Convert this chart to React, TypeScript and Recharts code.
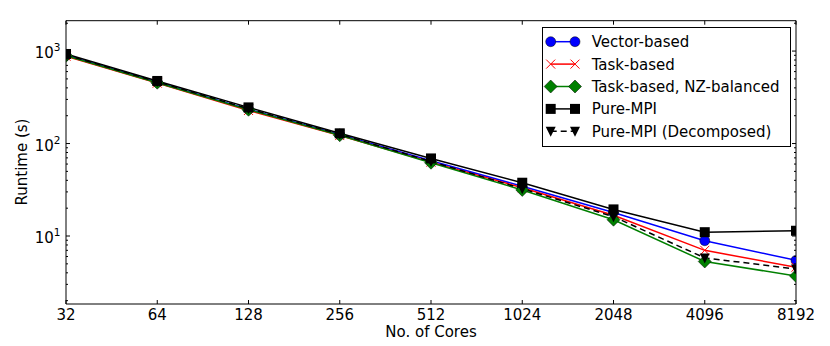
import React from "react";
import { LineChart, Line, XAxis, YAxis, Legend, ReferenceArea, Label } from "recharts";

// runtimes (s)
const cores = [32, 64, 128, 256, 512, 1024, 2048, 4096, 8192];
const vectorBased = [900, 460, 235, 125, 65, 34.5, 18.0, 8.9, 5.45];
const taskBased = [880, 450, 228, 122, 63, 33.3, 16.8, 7.0, 4.6];
const taskBalanced = [890, 455, 232, 123, 62, 31.5, 15.0, 5.3, 3.7];
const pureMpi = [930, 475, 246, 129, 69, 37.7, 19.4, 11.0, 11.4];
const pureMpiDecomposed = [910, 465, 238, 126, 64, 32.5, 16.2, 5.8, 4.4];

const yMajorTicks = [10, 100, 1000];
const yMinorTicks = [2, 3, 4, 5, 6, 7, 8, 9, 20, 30, 40, 50, 60, 70, 80, 90, 200, 300, 400, 500, 600, 700, 800, 900, 2000];
const Y_MIN = 1.84;
const Y_MAX = 2130;

const FONT = "DejaVu Sans";
const PLOT_W = 730;
const PLOT_H = 283.3;

type Kind = "circle" | "x" | "diamond" | "square" | "tri";

const series: { key: string; name: string; color: string; marker: Kind; dash?: string }[] = [
  { key: "vector", name: "Vector-based", color: "#0000ff", marker: "circle" },
  { key: "task", name: "Task-based", color: "#ff0000", marker: "x" },
  { key: "balanced", name: "Task-based, NZ-balanced", color: "#008000", marker: "diamond" },
  { key: "mpi", name: "Pure-MPI", color: "#000000", marker: "square" },
  { key: "mpiDec", name: "Pure-MPI (Decomposed)", color: "#000000", marker: "tri", dash: "6 4" },
];

const data = cores.map((c, i) => ({
  cores: c,
  vector: vectorBased[i],
  task: taskBased[i],
  balanced: taskBalanced[i],
  mpi: pureMpi[i],
  mpiDec: pureMpiDecomposed[i],
}));

const Marker = ({ kind, cx, cy, color }: { kind: Kind; cx: number; cy: number; color: string }) => {
  if (kind === "circle") return <circle cx={cx} cy={cy} r={5} fill={color} stroke="#000" strokeWidth={0.5} />;
  if (kind === "x")
    return (
      <g stroke={color} strokeWidth={1}>
        <line x1={cx - 4.5} y1={cy - 4.5} x2={cx + 4.5} y2={cy + 4.5} />
        <line x1={cx - 4.5} y1={cy + 4.5} x2={cx + 4.5} y2={cy - 4.5} />
      </g>
    );
  if (kind === "diamond")
    return (
      <polygon
        points={`${cx},${cy - 6.5} ${cx + 6.5},${cy} ${cx},${cy + 6.5} ${cx - 6.5},${cy}`}
        fill={color}
        stroke="#000"
        strokeWidth={0.5}
      />
    );
  if (kind === "square") return <rect x={cx - 5} y={cy - 5} width={10} height={10} fill={color} />;
  return <polygon points={`${cx - 5},${cy - 4.5} ${cx + 5},${cy - 4.5} ${cx},${cy + 5.5}`} fill={color} />;
};

const isMajor = (v: number) => {
  const e = Math.log10(v);
  return Math.abs(e - Math.round(e)) < 1e-9;
};

const YTick = (props: any) => {
  const { x, y, payload } = props;
  const major = isMajor(payload.value);
  const len = major ? 4 : 2;
  return (
    <g>
      <line x1={x} x2={x + len} y1={y} y2={y} stroke="#000" />
      <line x1={x + PLOT_W - len} x2={x + PLOT_W} y1={y} y2={y} stroke="#000" />
      {major && (
        <text x={x - 5.5} y={y + 7} textAnchor="end" fontSize={15} fontFamily={FONT} fill="#000">
          10
          <tspan dy={-7} fontSize={10.5}>
            {Math.round(Math.log10(payload.value))}
          </tspan>
        </text>
      )}
    </g>
  );
};

const XTick = (props: any) => {
  const { x, y, payload } = props;
  return (
    <g>
      <line x1={x} x2={x} y1={y} y2={y - 4} stroke="#000" />
      <line x1={x} x2={x} y1={y - PLOT_H} y2={y - PLOT_H + 4} stroke="#000" />
      <text x={x} y={y + 15.5} textAnchor="middle" fontSize={15} fontFamily={FONT} fill="#000">
        {payload.value}
      </text>
    </g>
  );
};

const LegendBox = () => (
  <svg width={249} height={120} style={{ display: "block" }}>
    <rect x={0.5} y={0.5} width={248} height={119} fill="#fff" stroke="#000" />
    {series.map((s, i) => {
      const cy = 14.7 + i * 22.4;
      return (
        <g key={s.key}>
          <line x1={8.7} x2={33} y1={cy} y2={cy} stroke={s.color} strokeWidth={1.5} strokeDasharray={s.dash} />
          <Marker kind={s.marker} cx={8.7} cy={cy} color={s.color} />
          <Marker kind={s.marker} cx={33} cy={cy} color={s.color} />
          <text x={49.7} y={cy + 5.5} fontSize={15} fontFamily={FONT} fill="#000">
            {s.name}
          </text>
        </g>
      );
    })}
  </svg>
);

export default function App() {
  return (
    <div style={{ width: 814, height: 338, marginBottom: -8 }}>
      <LineChart width={814} height={338} data={data} margin={{ top: 12.7, right: 26, bottom: 8, left: 0 }}>
        <XAxis
          dataKey="cores"
          type="number"
          scale="log"
          domain={[32, 8192]}
          ticks={cores}
          interval={0}
          allowDataOverflow
          axisLine={false}
          tickLine={false}
          tickSize={0}
          tickMargin={0}
          height={34}
          tick={<XTick />}
        >
          <Label
            content={() => (
              <text x={423} y={328.7} textAnchor="middle" fontSize={15} fontFamily={FONT} fill="#000">
                No. of Cores
              </text>
            )}
          />
        </XAxis>
        <YAxis
          type="number"
          scale="log"
          domain={[Y_MIN, Y_MAX]}
          ticks={[...yMinorTicks, ...yMajorTicks].sort((a, b) => a - b)}
          interval={0}
          allowDataOverflow
          axisLine={false}
          tickLine={false}
          tickSize={0}
          tickMargin={0}
          width={58}
          tick={<YTick />}
        >
          <Label
            content={() => (
              <text
                x={18.5}
                y={154}
                transform="rotate(-90, 18.5, 154)"
                textAnchor="middle"
                fontSize={15}
                fontFamily={FONT}
                fill="#000"
              >
                Runtime (s)
              </text>
            )}
          />
        </YAxis>
        <ReferenceArea x1={32} x2={8192} y1={Y_MIN} y2={Y_MAX} fill="none" stroke="#000" strokeWidth={1} ifOverflow="visible" />
        {series.map((s) => (
          <Line
            key={s.key}
            dataKey={s.key}
            name={s.name}
            type="linear"
            stroke={s.color}
            strokeWidth={1.5}
            strokeDasharray={s.dash}
            isAnimationActive={false}
            dot={(p: any) => <Marker key={`${s.key}-${p.index}`} kind={s.marker} cx={p.cx} cy={p.cy} color={s.color} />}
            activeDot={false}
          />
        ))}
        <Legend
          layout="vertical"
          align="center"
          verticalAlign="middle"
          content={() => <LegendBox />}
          wrapperStyle={{ left: 534, top: 19, width: 249, height: 120 }}
        />
      </LineChart>
    </div>
  );
}
